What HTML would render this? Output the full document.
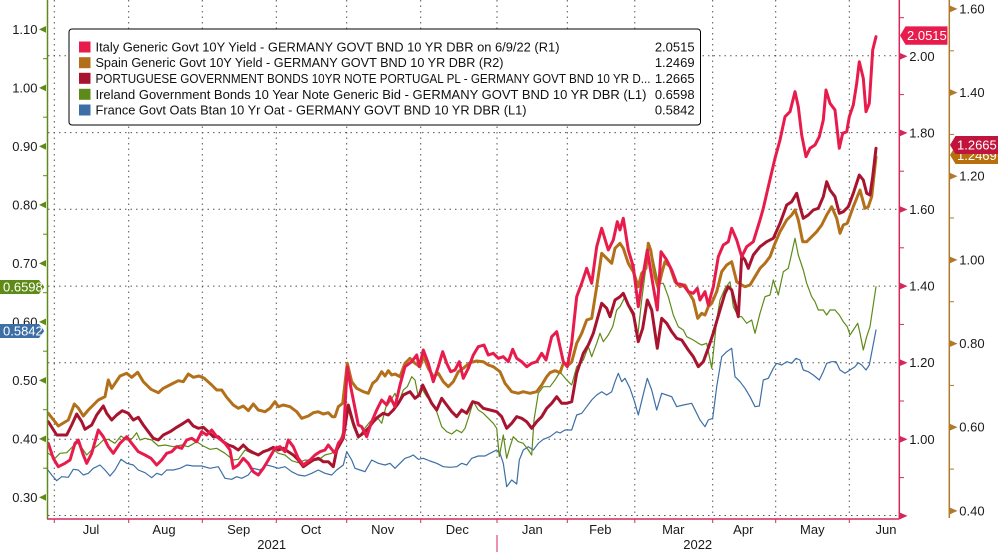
<!DOCTYPE html>
<html><head><meta charset="utf-8"><style>
html,body{margin:0;padding:0;background:#fff;}
svg{display:block;font-family:"Liberation Sans",sans-serif;}
</style></head><body>
<svg width="998" height="552" viewBox="0 0 998 552" xmlns="http://www.w3.org/2000/svg">
<rect width="998" height="552" fill="#fff"/>
<!-- gridlines -->
<g stroke="#555" stroke-width="1" stroke-dasharray="1.5 4" fill="none">
<line x1="48" y1="55.7" x2="899" y2="55.7"/>
<line x1="48" y1="132.6" x2="899" y2="132.6"/>
<line x1="48" y1="209.3" x2="899" y2="209.3"/>
<line x1="48" y1="286.1" x2="899" y2="286.1"/>
<line x1="48" y1="362.7" x2="899" y2="362.7"/>
<line x1="48" y1="439.3" x2="899" y2="439.3"/>
<line x1="48" y1="515.5" x2="899" y2="515.5"/>
<line x1="54.3" y1="0" x2="54.3" y2="516"/>
<line x1="128.7" y1="0" x2="128.7" y2="516"/>
<line x1="202.3" y1="0" x2="202.3" y2="516"/>
<line x1="276.3" y1="0" x2="276.3" y2="516"/>
<line x1="346.7" y1="0" x2="346.7" y2="516"/>
<line x1="420.7" y1="0" x2="420.7" y2="516"/>
<line x1="497" y1="0" x2="497" y2="516"/>
<line x1="567.3" y1="0" x2="567.3" y2="516"/>
<line x1="634.8" y1="0" x2="634.8" y2="516"/>
<line x1="712.7" y1="0" x2="712.7" y2="516"/>
<line x1="775.7" y1="0" x2="775.7" y2="516"/>
<line x1="849.3" y1="0" x2="849.3" y2="516"/>
</g>

<!-- series -->
<g fill="none" stroke-linejoin="round" stroke-linecap="round">
<polyline stroke="#3c6fa6" stroke-width="1.2" points="46.7,468.3 51.7,475 56.7,480.7 61.7,476.7 68.3,477.3 73.3,469.3 78.3,470 83.3,475 88.3,473.3 93.3,468.3 100,465 105,470 110,476 115,470 121,459.3 126.7,463.3 133.3,465 138.3,470 145,472.7 151.7,477.7 156.7,473.3 161.7,475 166.7,470 173.3,470 180,468.3 186.7,465 193.3,466 201.7,466 210,468.3 218.3,466.7 225,478.3 231.7,479.3 236.7,476.7 241.7,478.3 248.3,475 253.3,468.3 260,470 266.7,465 273.3,466.7 278.3,468.3 285,466.7 291.7,471.7 298.3,475 305,476 311.7,473.3 318.3,470 325,473.3 331.7,475 336.7,470 343.3,465 346.7,451.7 351.7,460 355,468.3 360,470 365,471.7 371.7,460 378.3,463.3 385,465 390,463.3 395,468.3 400,463.3 405,458.3 410,456.7 413.3,455 418.3,459.3 423.3,458.3 430,461 436.7,463.3 443.3,466.7 450,467.3 456.7,466.7 461.7,463.3 466.7,465 471.7,458.3 478.3,456 485,456 490,453.3 496.7,450 500,453.3 503.3,463.3 506.7,486.7 511.7,480 516.7,484 519.3,460 523.3,450 528.3,446.7 533.3,450 538.3,443.3 543.3,439.3 550,436.7 556.7,431.7 560,433 565,430 571.7,430 576.7,415 581.7,413.3 586.7,406.7 591.7,400 596.7,395 601.7,391.7 606.7,395 611.7,391.7 615,381.7 618.3,373.3 621.7,381.7 625,378.3 630,388.3 634,400 638.3,415 642.7,396.7 647.3,378.3 651.7,390 656.7,410 661.7,393.3 666.7,395 671.7,396.7 676.7,406.7 683.3,405 691.7,403.3 696.7,413.3 700,420 705,426.7 708.3,420 712.7,418.3 716.7,386.7 721.7,356.7 726.7,351.7 731.7,348.3 735,376.7 740,381.7 745,388.3 750,396.7 755,406.7 759.3,406 763.3,380 768.3,378.3 773.3,368.3 776.7,363.3 781.7,365 786.7,361.7 791.7,363.3 796,358.3 800,360 803.3,370 808.3,371.7 813.3,375 819.3,380 823.3,371.7 826.7,363.3 831.7,361.7 836,361.7 840,370 845,373.3 850,370 855,366.7 858.3,362.7 861.7,365 866,370 869.3,365 876,330"/>
<polyline stroke="#5e8b18" stroke-width="1.2" points="48.3,453.3 55,458.3 60,453.3 66.7,452.7 73.3,446 78.3,442.7 83.3,450 86.7,455 91.7,450 98.3,445 103.3,440 108.3,439.3 115,443.3 121,436 126.7,440 132.3,438.3 136.7,432.7 140,440 145,438.3 151.7,440 158.3,446 165,445 173.3,446.7 181.7,445 188.3,446.7 196.7,441.7 203.3,446 210,449.3 216.7,448.3 225,453.3 233.3,460 238.3,459.3 245,450 251.7,453.3 258.3,455 265,451.7 271.7,448.3 278.3,453.3 285,455 291.7,460.7 298.3,462.7 305,460 311.7,460.7 318.3,460 325,455 331.7,453.3 338.3,446.7 343.3,430 348.3,410 353.3,426.7 358.3,438.3 363.3,430 370,421.7 376.7,416.7 381.7,423.3 386,406.7 390,401.7 395,393.3 398.3,403.3 403.3,390 407.3,386.7 411.7,376.7 415,380 418.3,396.7 421.7,388.3 426.7,396.7 431.7,401.7 436.7,411.7 441.7,426.7 446.7,431.7 451.7,434 456.7,430 461.7,432.7 465,428.3 469.3,415 473.3,401.7 478.3,410 483.3,413.3 488.3,418.3 493.3,423.3 496.7,428.3 499.3,456.7 503.3,435 506.7,458.3 510,446.7 513.3,436.7 518.3,441.7 523.3,443.3 528.3,450 531.7,455 534,420 538.3,393.3 543.3,386.7 550,386.7 555,380 560,372 566.7,380 571.7,385 576.7,366.7 583.3,360 588.3,346.7 591.7,356.7 596.7,343.3 600,333.3 603.3,341.7 608.3,335 612.7,326.7 616.7,310 620,306.7 625,296.7 628.3,306.7 633.3,316.7 637.3,340 641.7,300 646,266.7 649.3,246.7 653.3,260 658.3,283.3 663.3,283.3 668.3,296.7 673.3,315 678.3,326.7 683.3,330 686.7,336.7 693.3,340 698.3,343.3 701.7,345 706.7,343.3 711.7,368.3 713.3,353.3 716.7,320 720,300 725,288.3 730,281.7 733.3,306.7 738.3,316.7 741.7,316.7 746.7,323.3 751.7,320 755,333.3 760,313.3 765,296.7 770,295 773.3,280 778.3,295 783.3,271.7 788.3,268.3 791.7,253.3 795,238.3 798.3,255 803.3,270 806.7,283.3 811.7,296.7 815,301.7 818.3,310 823.3,310 826.7,315 830,310 835,310 839.3,315 843.3,321.7 847.3,326.7 850,335 853.3,330 857.7,323.3 860,333.3 863.3,350 866.7,336.7 870,326.7 876,286.7"/>
<polyline stroke="#b3701a" stroke-width="3" points="48.3,413.3 58.3,426 68.3,420 74.3,404 78.3,408 83.3,416 88.3,410 98.3,400 105,396.7 108.3,380 111.7,388.3 120,376 126.7,373.3 131.7,377.3 137.7,372.3 143.3,381.7 151,389.3 158.3,392.7 163.3,388.3 171.7,384 178.3,380.7 183.3,381.7 188.3,374 193.3,377.3 199,376 204.3,378.3 211.7,385 216.7,390 221.7,390 226.7,397.3 233.3,405 238.3,408.3 243.3,406 248.3,410.7 253.3,404 258.3,410 265,411.7 270,408.3 275,401.7 278.3,406.7 283.3,405 290,406.7 296.7,411.7 301.7,418.3 308.3,416 313.3,412.7 318.3,411.7 323.3,414 328.3,412.7 332.3,416.7 335,416.7 338.3,406.7 342.7,403.3 347.3,363.3 351.7,381.7 356.7,388.3 363.3,391.7 368.3,393.3 372.7,383.3 376.7,380 381.7,371.7 385,376 388.3,370.7 391.7,375 395,374 400,376.7 405,363.3 410,358.3 415,363.3 420,366.7 423.3,356 428.3,368.3 433.3,376.7 438.3,373.3 443.3,381.7 448.3,386.7 453.3,381.7 458.3,371.7 463.3,368.3 470,362.7 476.7,361 483.3,361.7 488.3,365 493.3,366.7 500,371.7 505,383.3 511.7,391.7 518.3,393.3 523.3,391.7 530,393.3 536.7,391.7 541.7,385 546.7,376.7 550,372.7 555,370.7 560,372.7 563.3,363.3 568.3,365 571.7,362 576.7,343.3 581.7,333.3 586.7,320 591.7,318.3 596.7,286.7 601.7,253.3 606.7,258.3 611.7,263.3 615,248.3 620,243.3 623.3,248.3 628.3,263.3 633.3,271.7 638.3,286.7 641.7,273.3 646,268.3 648.3,243.3 650.7,250 655,276.7 658.3,288.3 661.7,273.3 665,261.7 670,266.7 675,281.7 680,286.7 685,285 688.3,291.7 693.3,300 697.7,318.3 701.7,313.3 705,315 708.3,306.7 711.7,303.3 716.7,291.7 721.7,271.7 726.7,265 731.7,261.7 736.7,281.7 741.7,285 745,286.7 750,285 755,276.7 760,268.3 765,263.3 770,256.7 775,243.3 780,231.7 786.7,220 791.7,215 795,210 798.3,220 802.7,241.7 806.7,241.7 811.7,236.7 816.7,231.7 821.7,225 826.7,215 831.7,206.7 836.7,218.3 840,233.3 843.3,225 847.3,223.3 853.3,206.7 860,190 865,208.3 868.3,206.7 871.7,196.7 876,157"/>
<polyline stroke="#a8142f" stroke-width="3" points="48.3,421.7 56.7,435 66.7,435 71.7,425 76.7,414 81.7,421.7 85,429.3 91.7,425 96.7,415 103.3,406 106.7,413.3 111.7,420 116.7,415 122.3,410.7 128.3,413.3 133.3,420 138.3,417.3 143.3,425 148.3,431.7 153.3,438.3 158.3,440 163.3,435 170,431.7 176.7,427.3 183.3,423.3 188.3,420 193.3,426 198.3,428.3 203.3,427.3 208.3,431.7 213.3,436.7 218.3,436.7 223.3,441.7 228.3,445 233.3,446.7 238.3,450 243.3,445 248.3,450 253.3,452.7 258.3,455 263.3,451.7 268.3,450 273.3,447.3 278.3,450 283.3,448.3 288.3,451.7 293.3,455 298.3,460 303.3,466.7 308.3,463.3 313.3,460 318.3,458.3 323.3,461.7 328.3,461.7 333.3,466.7 336.7,450 343.3,438.3 348.3,405 353.3,423.3 358.3,436.7 363.3,433.3 368.3,428.3 373.3,421.7 378.3,416.7 383.3,413.3 388.3,415 393.3,410 398.3,403.3 403.3,395 410,391.7 415,398.3 419.3,395 422.7,385 426.7,393.3 431.7,403.3 436.7,410 441.7,398.3 446.7,405 451.7,411.7 456.7,416.7 461.7,410 466.7,413.3 472.7,401.7 478.3,403.3 483.3,408.3 490,410 496.7,411.7 501.7,416.7 506.7,428.3 511.7,423.3 516.7,416.7 521.7,418.3 526.7,421.7 531.7,428.3 536.7,421.7 541.7,416.7 546.7,408.3 551.7,403.3 556.7,396.7 561.7,403.3 566.7,403.3 571.7,401.7 576.7,373.3 583.3,353.3 588.3,345 593.3,333.3 601.7,303.3 606.7,308.3 610,316.7 615,300 620,296.7 623.3,293.3 628.3,305 633.3,313.3 638.3,341.7 642.7,328.3 647.3,300 651.7,310 657.3,348.3 661.7,318.3 666.7,323.3 671.7,331.7 676.7,338.3 681.7,340 688.3,350 693.3,356.7 698.3,366.7 703.3,361.7 708.3,348 713.3,333 720,310 725,293.3 728.3,286.7 731.7,290 735,303 738.3,316.7 741.7,256 745,260 748.3,268.3 753.3,255 760,246.7 766.7,241.7 773.3,238.3 780,223.3 786.7,205 791.7,201.7 796.7,193.3 800,206.7 803.3,218.3 808.3,215 813.3,210 818.3,208.3 823.3,196.7 826.7,181.7 830,190 835,196.7 839.3,213.3 843.3,211.7 848.3,206.7 853.3,193.3 859.3,175 863.3,180 866.7,193.3 870,195 872.7,176.7 876,148.3"/>
<polyline stroke="#e81c4c" stroke-width="3" points="48.3,443.3 53.3,458.3 58.3,466.7 65,463.3 70,460 75,443.3 78.3,440 83.3,455 86.7,463.3 91.7,453.3 98.3,430 103.3,436.7 108.3,446.7 113.3,453.3 120,443.3 126.7,436.7 131.7,443.3 138.3,451.7 145,455 151,458.3 156.7,465 161.7,460 166.7,453.3 171.7,451.7 176.7,446.7 181.7,448.3 186.7,440 191.7,438.3 196.7,441.7 201.7,431.7 206.7,435 211.7,430 216.7,436.7 221,440 225,443.3 230,450 233.3,468.3 238.3,465 243.3,458.3 248.3,463.3 253.3,471.7 258.3,475 263.3,468.3 268.3,460 275,448.3 280,446.7 285,451.7 288.3,440 293.3,446.7 298.3,458.3 303.3,465 310,460 315,455 320,451.7 325,450 328.3,445 332.3,450 335,453.3 338.3,443.3 343.3,436.7 347.3,366.7 350.7,386.7 354,403.3 358.3,425 361.7,426.7 366.7,436.7 371.7,421.7 376.7,410 381.7,400 386.7,405 390,396.7 395,406.7 400,385 405,366.7 411.7,361.7 416.7,355 419.3,366.7 423.3,350 428.3,363.3 433.3,381.7 438.3,366.7 442.7,351.7 446.7,363.3 450.7,371.7 455,370 459.3,361.7 463.3,378.3 468.3,368.3 473.3,355 478.3,346.7 484,345 488.3,355 493.3,353.3 498.3,358.3 503.3,356.7 508.3,361.7 512.7,349.3 516.7,358.3 521.7,361.7 526.7,366.7 531.7,363.3 536.7,361.7 541.7,353.3 546,360 551.7,336.7 556.7,331.7 560,346.7 563.3,361.7 567.3,366.7 571.7,343.3 576.7,296.7 581.7,283.3 586.7,268.3 591.7,283.3 596.7,246.7 601.7,228.3 608.3,250 613.3,240 617.3,221.7 620,230 623.3,218.3 628.3,250 633.3,266.7 638.3,306.7 641.7,283.3 647.3,250 653.3,286.7 657.3,310 661,251.7 666.7,260 671.7,270 676.7,283.3 683.3,285 688.3,291.7 693.3,293.3 697.3,288.3 700,300 705,291.7 708.3,305 713.3,286.7 718.3,256.7 723.3,245 728.3,241.7 731.7,228.3 736.7,240 741.7,256.7 746.7,246.7 753.3,241.7 760,220 763.3,208.3 768.3,186.7 775,158.3 780,140 785,116.7 790,111.7 795,91.7 798.3,106.7 801.7,135 806,156.7 810,148.3 815,145 819.3,136.7 823.3,120 826,90 830,103.3 835,110 839.3,148.3 842.7,133.3 846.7,131.7 849.3,116.7 853.3,105 856.7,83.3 859.3,61.7 863.3,78.3 866,111.7 869.3,103.3 872.7,50 876,36.7"/>
</g>

<!-- legend -->
<rect x="69" y="29" width="631.5" height="96" rx="3" fill="#fff" stroke="#000" stroke-width="1"/>
<rect x="79" y="41.5" width="11.5" height="11" fill="#e81c4c"/>
<rect x="79" y="57.2" width="11.5" height="11" fill="#b3701a"/>
<rect x="79" y="72.8" width="11.5" height="11" fill="#a8142f"/>
<rect x="79" y="88.8" width="11.5" height="11" fill="#5e8b18"/>
<rect x="79" y="104.5" width="11.5" height="11" fill="#3c6fa6"/>
<g font-size="13" fill="#111">
<text x="95.5" y="51.5" textLength="464" lengthAdjust="spacingAndGlyphs">Italy Generic Govt 10Y Yield - GERMANY GOVT BND 10 YR DBR on 6/9/22 (R1)</text>
<text x="95.5" y="67.2" textLength="408" lengthAdjust="spacingAndGlyphs">Spain Generic Govt 10Y Yield - GERMANY GOVT BND 10 YR DBR (R2)</text>
<text x="95.5" y="82.8" textLength="555" lengthAdjust="spacingAndGlyphs">PORTUGUESE GOVERNMENT BONDS 10YR NOTE PORTUGAL PL - GERMANY GOVT BND 10 YR D...</text>
<text x="95.5" y="98.8" textLength="551" lengthAdjust="spacingAndGlyphs">Ireland Government Bonds 10 Year Note Generic Bid - GERMANY GOVT BND 10 YR DBR (L1)</text>
<text x="95.5" y="114.5" textLength="431" lengthAdjust="spacingAndGlyphs">France Govt Oats Btan 10 Yr Oat - GERMANY GOVT BND 10 YR DBR (L1)</text>
<g text-anchor="end">
<text x="694.6" y="51.5">2.0515</text>
<text x="694.6" y="67.2">1.2469</text>
<text x="694.6" y="82.8">1.2665</text>
<text x="694.6" y="98.8">0.6598</text>
<text x="694.6" y="114.5">0.5842</text>
</g>
</g>

<!-- left axis -->
<line x1="47.5" y1="0" x2="47.5" y2="519" stroke="#5e8b18" stroke-width="1.5"/>
<g fill="#5e8b18">
<polygon points="39,29.4 46,26 46,32.8"/>
<polygon points="39,87.9 46,84.5 46,91.3"/>
<polygon points="39,146.4 46,143 46,149.8"/>
<polygon points="39,204.9 46,201.5 46,208.3"/>
<polygon points="39,263.4 46,260 46,266.8"/>
<polygon points="39,321.9 46,318.5 46,325.3"/>
<polygon points="39,380.4 46,377 46,383.8"/>
<polygon points="39,438.9 46,435.5 46,442.3"/>
<polygon points="39,497.4 46,494 46,500.8"/>
</g>
<g stroke="#5e8b18" stroke-width="1">
<line x1="43" y1="58.7" x2="47" y2="58.7"/>
<line x1="43" y1="117.2" x2="47" y2="117.2"/>
<line x1="43" y1="175.7" x2="47" y2="175.7"/>
<line x1="43" y1="234.2" x2="47" y2="234.2"/>
<line x1="43" y1="292.7" x2="47" y2="292.7"/>
<line x1="43" y1="351.2" x2="47" y2="351.2"/>
<line x1="43" y1="409.7" x2="47" y2="409.7"/>
<line x1="43" y1="468.2" x2="47" y2="468.2"/>
</g>
<g font-size="13" fill="#1a1a1a" text-anchor="end">
<text x="37.5" y="34">1.10</text>
<text x="37.5" y="92.5">1.00</text>
<text x="37.5" y="151">0.90</text>
<text x="37.5" y="209.5">0.80</text>
<text x="37.5" y="268">0.70</text>
<text x="37.5" y="326.5">0.60</text>
<text x="37.5" y="385">0.50</text>
<text x="37.5" y="443.5">0.40</text>
<text x="37.5" y="502">0.30</text>
</g>
<!-- left value labels -->
<polygon points="0,280 39,280 44.3,287 39,294 0,294" fill="#5e8b18"/>
<text x="3" y="291.6" font-size="13" fill="#fff">0.6598</text>
<polygon points="0,324 39,324 44.3,331 39,338 0,338" fill="#3c6fa6"/>
<text x="3" y="335.6" font-size="13" fill="#fff">0.5842</text>

<!-- bottom axis -->
<line x1="47" y1="519" x2="899.5" y2="519" stroke="#d4285a" stroke-width="1.5"/>
<g stroke="#d4285a" stroke-width="1">
<line x1="54.3" y1="519" x2="54.3" y2="523"/>
<line x1="128.7" y1="519" x2="128.7" y2="523"/>
<line x1="202.3" y1="519" x2="202.3" y2="523"/>
<line x1="276.3" y1="519" x2="276.3" y2="523"/>
<line x1="346.7" y1="519" x2="346.7" y2="523"/>
<line x1="420.7" y1="519" x2="420.7" y2="523"/>
<line x1="497" y1="519" x2="497" y2="523"/>
<line x1="567.3" y1="519" x2="567.3" y2="523"/>
<line x1="634.8" y1="519" x2="634.8" y2="523"/>
<line x1="712.7" y1="519" x2="712.7" y2="523"/>
<line x1="775.7" y1="519" x2="775.7" y2="523"/>
<line x1="849.3" y1="519" x2="849.3" y2="523"/>
<line x1="497" y1="535" x2="497" y2="552"/>
</g>
<g font-size="13" fill="#1a1a1a" text-anchor="middle">
<text x="91" y="534">Jul</text>
<text x="164" y="534">Aug</text>
<text x="238.7" y="534">Sep</text>
<text x="311" y="534">Oct</text>
<text x="382.7" y="534">Nov</text>
<text x="457.3" y="534">Dec</text>
<text x="532.3" y="534">Jan</text>
<text x="600.3" y="534">Feb</text>
<text x="673.3" y="534">Mar</text>
<text x="743.3" y="534">Apr</text>
<text x="812.3" y="534">May</text>
<text x="886" y="534">Jun</text>
<text x="271.7" y="549">2021</text>
<text x="697.7" y="549">2022</text>
</g>

<!-- right axis R1 -->
<line x1="899.3" y1="0" x2="899.3" y2="519" stroke="#d4285a" stroke-width="1.5"/>
<g fill="#d4285a">
<polygon points="907.5,56.3 900,53 900,59.6"/>
<polygon points="907.5,132.9 900,129.6 900,136.2"/>
<polygon points="907.5,209.5 900,206.2 900,212.8"/>
<polygon points="907.5,286.1 900,282.8 900,289.4"/>
<polygon points="907.5,362.7 900,359.4 900,366"/>
<polygon points="907.5,439.3 900,436 900,442.6"/>
<polygon points="907.5,515.9 900,512.6 900,519.2"/>
</g>
<g stroke="#d4285a" stroke-width="1">
<line x1="900" y1="17.7" x2="904" y2="17.7"/>
<line x1="900" y1="94.6" x2="904" y2="94.6"/>
<line x1="900" y1="171.2" x2="904" y2="171.2"/>
<line x1="900" y1="247.8" x2="904" y2="247.8"/>
<line x1="900" y1="324.4" x2="904" y2="324.4"/>
<line x1="900" y1="401" x2="904" y2="401"/>
<line x1="900" y1="477.6" x2="904" y2="477.6"/>
</g>
<g font-size="13" fill="#1a1a1a">
<text x="909.3" y="60.8">2.00</text>
<text x="909.3" y="137.4">1.80</text>
<text x="909.3" y="214">1.60</text>
<text x="909.3" y="290.6">1.40</text>
<text x="909.3" y="367.2">1.20</text>
<text x="909.3" y="443.8">1.00</text>
</g>

<!-- right axis R2 -->
<line x1="949.3" y1="0" x2="949.3" y2="518" stroke="#b07a2a" stroke-width="1.5"/>
<g fill="#b07a2a">
<polygon points="957.5,8.9 950,5.6 950,12.2"/>
<polygon points="957.5,92.6 950,89.3 950,95.9"/>
<polygon points="957.5,176.2 950,172.9 950,179.5"/>
<polygon points="957.5,259.9 950,256.6 950,263.2"/>
<polygon points="957.5,343.6 950,340.3 950,346.9"/>
<polygon points="957.5,427.2 950,423.9 950,430.5"/>
<polygon points="957.5,510.9 950,507.6 950,514.2"/>
</g>
<g stroke="#b07a2a" stroke-width="1">
<line x1="950" y1="50.8" x2="954" y2="50.8"/>
<line x1="950" y1="134.4" x2="954" y2="134.4"/>
<line x1="950" y1="218" x2="954" y2="218"/>
<line x1="950" y1="301.7" x2="954" y2="301.7"/>
<line x1="950" y1="385.4" x2="954" y2="385.4"/>
<line x1="950" y1="469.1" x2="954" y2="469.1"/>
</g>
<g font-size="13" fill="#1a1a1a">
<text x="959.3" y="13.4">1.60</text>
<text x="959.3" y="97.1">1.40</text>
<text x="959.3" y="180.7">1.20</text>
<text x="959.3" y="264.4">1.00</text>
<text x="959.3" y="348.1">0.80</text>
<text x="959.3" y="431.7">0.60</text>
<text x="959.3" y="515.4">0.40</text>
</g>

<!-- right value labels -->
<polygon points="900,35.5 905.5,26.4 947.5,26.4 947.5,44.7 905.5,44.7" fill="#e81c4c"/>
<text x="907" y="40.2" font-size="13" fill="#fff">2.0515</text>
<polygon points="950,155 955.5,146 998,146 998,164 955.5,164" fill="#b8700f"/>
<text x="957" y="160" font-size="13" fill="#fff">1.2469</text>
<polygon points="950,145 955.5,136 998,136 998,154 955.5,154" fill="#c0143c"/>
<text x="957" y="149.6" font-size="13" fill="#fff">1.2665</text>
</svg>
</body></html>
